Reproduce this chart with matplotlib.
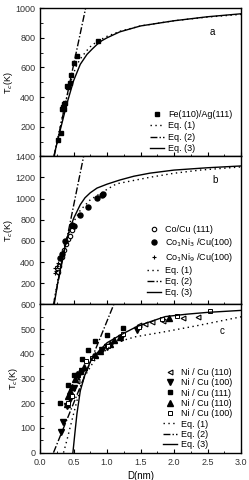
import matplotlib
matplotlib.use("Agg")
import matplotlib.pyplot as plt
from matplotlib.lines import Line2D
from matplotlib.ticker import MultipleLocator

plt.rcParams['font.family'] = ['Liberation Sans', 'DejaVu Sans']
plt.rcParams['font.size'] = 6.5

# ---- panel a: Fe(110)/Ag(111) ----
fe_D = [0.26, 0.31, 0.33, 0.34, 0.35, 0.36, 0.37, 0.40, 0.41, 0.44, 0.46, 0.51, 0.55, 0.86]
fe_T = [110, 155, 320, 335, 322, 355, 360, 477, 470, 492, 550, 632, 677, 777]

a_eq1_D = [0.21, 0.25, 0.30, 0.35, 0.40, 0.45, 0.50, 0.55, 0.62, 0.70, 0.75, 0.85, 1.0, 1.2, 1.5, 2.0, 2.5, 3.0]
a_eq1_T = [0, 95, 200, 300, 400, 490, 560, 620, 670, 715, 740, 775, 810, 845, 880, 915, 940, 958]
a_eq2_D = [0.21, 0.68]
a_eq2_T = [0, 1000]
a_eq3_D = [0.21, 0.30, 0.40, 0.50, 0.60, 0.70, 0.78, 0.85, 0.92, 1.0, 1.19, 1.5, 2.0, 2.5, 3.0]
a_eq3_T = [10, 176, 355, 510, 621, 688, 725, 755, 780, 800, 840, 880, 915, 942, 962]

# ---- panel b: Co/Cu, CoNi/Cu ----
co_D = [0.27, 0.28, 0.32, 0.36, 0.39, 0.42, 0.44, 0.47]
co_T = [311, 360, 445, 512, 570, 620, 651, 700]
coni3_D = [0.30, 0.32, 0.37, 0.48, 0.50, 0.59, 0.71, 0.855, 0.92, 0.94]
coni3_T = [440, 473, 603, 748, 738, 845, 920, 1008, 1030, 1045]
coni9_D = [0.22, 0.23, 0.24, 0.25, 0.26]
coni9_T = [295, 343, 320, 360, 390]

b_eq1_D = [0.20, 0.27, 0.35, 0.42, 0.50, 0.60, 0.75, 1.0, 1.14, 1.64, 2.0, 2.39, 3.0]
b_eq1_T = [0, 250, 500, 660, 780, 890, 990, 1088, 1140, 1202, 1240, 1270, 1300]
b_eq2_D = [0.20, 0.65]
b_eq2_T = [0, 1400]
b_eq3_D = [0.21, 0.27, 0.35, 0.42, 0.50, 0.60, 0.67, 0.75, 0.85, 1.0, 1.19, 1.4, 1.64, 2.0, 2.5, 3.0]
b_eq3_T = [0, 230, 489, 667, 813, 943, 1008, 1056, 1100, 1137, 1176, 1212, 1241, 1270, 1292, 1309]

# ---- panel c: Ni/Cu ----
ni110o_D = [0.45, 0.55, 1.47, 1.57, 1.67, 1.84, 2.14, 2.36]
ni110o_T = [230, 290, 515, 522, 528, 535, 545, 551]
ni100f_D = [0.31, 0.34, 0.40, 0.44, 0.50, 0.57, 0.63, 0.92, 1.0, 1.21, 1.44]
ni100f_T = [84, 123, 190, 216, 260, 309, 330, 415, 428, 465, 495]
ni111_D = [0.29, 0.41, 0.51, 0.62, 0.72, 0.82, 1.0, 1.24]
ni111_T = [200, 272, 316, 380, 416, 453, 475, 504]
ni110f_D = [0.40, 0.42, 0.45, 0.47, 0.52, 0.55, 0.60, 0.65, 0.82, 0.90, 1.05, 1.10, 1.19, 1.92]
ni110f_T = [195, 230, 250, 265, 300, 320, 330, 345, 395, 410, 440, 455, 469, 545]
ni100o_D = [0.42, 0.48, 0.68, 0.78, 1.02, 1.24, 1.47, 1.82, 2.04, 2.54]
ni100o_T = [200, 228, 370, 385, 432, 480, 508, 540, 555, 572]

c_eq1_D = [0.35, 0.40, 0.45, 0.55, 0.65, 0.80, 1.0, 1.12, 1.42, 1.87, 2.36, 3.0]
c_eq1_T = [0, 50, 104, 210, 302, 369, 420, 445, 469, 490, 515, 550]
c_eq2_D = [0.20, 1.10]
c_eq2_T = [0, 600]
c_eq3_D = [0.49, 0.52, 0.55, 0.60, 0.67, 0.75, 0.87, 1.0, 1.19, 1.44, 1.64, 1.87, 2.2, 2.5, 3.0]
c_eq3_T = [0, 80, 157, 250, 316, 369, 409, 445, 475, 510, 530, 551, 561, 568, 576]

dot_style = dict(color='black', lw=1.0, linestyle=(0, (1, 2.5)))
dash_style = dict(color='black', lw=1.0, linestyle=(0, (5, 1.5, 1, 1.5)))
solid_style = dict(color='black', lw=1.0, linestyle='-')

fig, axes = plt.subplots(3, 1, sharex=True, figsize=(2.49, 4.80), dpi=100)
fig.subplots_adjust(left=0.161, right=0.968, top=0.983, bottom=0.057, hspace=0)
ax_a, ax_b, ax_c = axes

leg_kw = dict(loc='lower right', frameon=False, fontsize=6.5, handlelength=1.5,
              handletextpad=0.5, borderaxespad=0.3)


def eq_lines(ax, d1, t1, d2, t2, d3, t3):
    ax.plot(d1, t1, **dot_style)
    ax.plot(d2, t2, **dash_style)
    ax.plot(d3, t3, **solid_style)
    return [Line2D([], [], **dot_style, label='Eq. (1)'),
            Line2D([], [], **dash_style, label='Eq. (2)'),
            Line2D([], [], **solid_style, label='Eq. (3)')]


# panel a
h = ax_a.plot(fe_D, fe_T, 's', color='black', ms=3.2, label='Fe(110)/Ag(111)')
hl = eq_lines(ax_a, a_eq1_D, a_eq1_T, a_eq2_D, a_eq2_T, a_eq3_D, a_eq3_T)
ax_a.legend(handles=h + hl, labelspacing=0.25, bbox_to_anchor=(0.99, -0.02), **leg_kw)
ax_a.set_ylim(0, 1000)
ax_a.set_yticks([0, 200, 400, 600, 800, 1000])
ax_a.set_yticklabels(['', '200', '400', '600', '800', '1000'])
ax_a.yaxis.set_minor_locator(MultipleLocator(100))
ax_a.text(0.846, 0.82, 'a', transform=ax_a.transAxes, fontsize=7)

# panel b
h1 = ax_b.plot(co_D, co_T, 'o', mfc='white', mec='black', mew=0.8, ms=3.2, label='Co/Cu (111)')
h2 = ax_b.plot(coni3_D, coni3_T, 'o', color='black', ms=3.6, label='Co$_1$Ni$_3$ /Cu(100)')
h3 = ax_b.plot(coni9_D, coni9_T, '+', color='black', mew=0.8, ms=3.5, label='Co$_1$Ni$_9$ /Cu(100)')
hl = eq_lines(ax_b, b_eq1_D, b_eq1_T, b_eq2_D, b_eq2_T, b_eq3_D, b_eq3_T)
ax_b.legend(handles=h1 + h2 + h3 + hl, labelspacing=0.22, bbox_to_anchor=(0.99, 0.01), **leg_kw)
ax_b.set_ylim(0, 1400)
ax_b.set_yticks(range(0, 1401, 200))
ax_b.set_yticklabels([''] + [str(v) for v in range(200, 1401, 200)])
ax_b.text(0.86, 0.82, 'b', transform=ax_b.transAxes, fontsize=7)

# panel c
k1 = ax_c.plot(ni110o_D, ni110o_T, '<', mfc='white', mec='black', mew=0.8, ms=3.5, label='Ni / Cu (110)')
k2 = ax_c.plot(ni100f_D, ni100f_T, 'v', color='black', ms=3.8, label='Ni / Cu (100)')
k3 = ax_c.plot(ni111_D, ni111_T, 's', color='black', ms=3.0, label='Ni / Cu (111)')
k4 = ax_c.plot(ni110f_D, ni110f_T, '^', color='black', ms=3.8, label='Ni / Cu (110)')
k5 = ax_c.plot(ni100o_D, ni100o_T, 's', mfc='white', mec='black', mew=0.7, ms=2.6, label='Ni / Cu (100)')
hl = eq_lines(ax_c, c_eq1_D, c_eq1_T, c_eq2_D, c_eq2_T, c_eq3_D, c_eq3_T)
ax_c.legend(handles=k1 + k2 + k3 + k4 + k5 + hl, labelspacing=0.15, bbox_to_anchor=(0.99, -0.02), **leg_kw)
ax_c.set_ylim(0, 600)
ax_c.set_yticks(range(0, 601, 100))
ax_c.yaxis.set_minor_locator(MultipleLocator(50))
ax_c.text(0.895, 0.80, 'c', transform=ax_c.transAxes, fontsize=7)

ax_c.set_xlim(0, 3.0)
ax_c.set_xticks([0.0, 0.5, 1.0, 1.5, 2.0, 2.5, 3.0])
ax_c.set_xticklabels(['0.0', '0.5', '1.0', '1.5', '2.0', '2.5', '3.0'])
ax_c.xaxis.set_minor_locator(MultipleLocator(0.25))
ax_c.set_xlabel('D(nm)', fontsize=7, labelpad=3)

for ax in axes:
    ax.set_ylabel('T$_c$(K)', fontsize=6.5, labelpad=0)
    ax.tick_params(which='both', direction='in', labelsize=6.5, colors='black', labelcolor='#333333')
    ax.tick_params(which='major', length=3, width=0.8)
    ax.tick_params(which='minor', length=1.8, width=0.6)
    for sp in ax.spines.values():
        sp.set_linewidth(1.0)

fig.savefig('out.png', dpi=100)
